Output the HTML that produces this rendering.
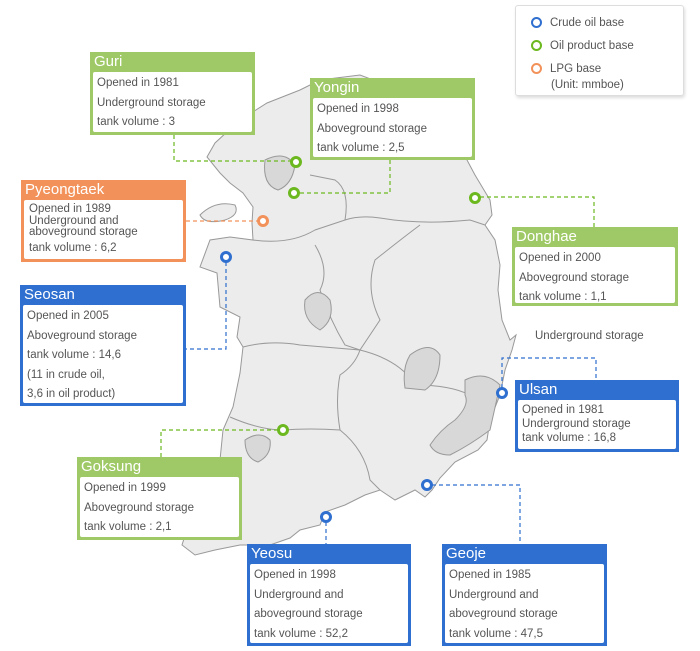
<!DOCTYPE html>
<html><head><meta charset="utf-8"><style>
body{margin:0;width:700px;height:651px;background:#fff;position:relative;font-family:"Liberation Sans",sans-serif;overflow:hidden}
.b{position:absolute;box-sizing:border-box;padding:20px 3px 3px 3px}
.b .t{position:absolute;left:4px;top:1px;color:#fff;font-size:15px;line-height:18px}
.b .i{background:#fff;border-radius:2px;height:100%;box-sizing:border-box;padding:2px 4px;color:#555;font-size:11.5px;line-height:19.5px;white-space:nowrap}
.g{background:#9fc966}.o{background:#f2925a}.bl{background:#2f6fcf}
svg{position:absolute;left:0;top:0}
.lg{position:absolute;left:515px;top:5px;width:167px;height:89px;border:1px solid #ddd;border-radius:3px;box-shadow:1px 2px 3px #ddd;font-size:11.5px;color:#555}
</style></head><body>
<svg width="700" height="651">
<path d="M207,157 L215,143 L240,120 L267,103 L300,90 L320,80 L360,75 L400,90 L440,120 L467,160 L475,175 L490,200 L492,215 L485,225 L495,240 L500,265 L498,290 L502,320 L510,340 L516,335 L512,350 L505,370 L500,395 L490,420 L487,440 L478,450 L455,462 L440,478 L432,490 L425,497 L415,490 L395,500 L380,490 L365,495 L345,505 L325,512 L320,525 L300,530 L290,538 L270,545 L240,545 L215,550 L195,555 L182,545 L190,520 L215,495 L220,460 L223,430 L233,407 L240,373 L243,347 L237,337 L240,317 L220,307 L217,273 L200,267 L210,240 L230,237 L253,240 L252,223 L253,207 L243,193 L230,183 L220,173 Z" fill="#ececec" stroke="#999" stroke-width="1"/>
<path d="M200,215 Q215,200 235,205 Q240,215 225,220 Q205,225 200,215Z" fill="#ececec" stroke="#999"/>
<g fill="none" stroke="#999" stroke-width="1">
<path d="M253,240 Q290,245 315,230 L345,220 Q360,215 380,218 Q420,225 470,220 L485,225"/>
<path d="M345,220 Q350,190 335,180 L310,175"/>
<path d="M315,245 Q330,270 320,290 Q330,320 345,345 L360,350"/>
<path d="M420,225 Q400,240 375,260 Q365,290 380,320 L360,350 Q355,365 340,375 Q335,400 340,430"/>
<path d="M243,347 Q270,340 300,345 L360,350"/>
<path d="M230,417 Q260,430 283,430 Q310,428 340,430 Q365,450 370,480 L380,490"/>
<path d="M360,350 Q400,360 415,385 Q450,385 470,395 L487,400"/>
</g>
<g fill="#d8d8d8" stroke="#999">
<path d="M265,160 Q285,150 295,165 Q292,185 278,190 Q262,185 265,160Z"/>
<path d="M305,300 Q318,285 330,300 Q335,320 320,330 Q302,320 305,300Z"/>
<path d="M410,355 Q430,340 440,355 Q440,380 425,390 L405,388 Q402,368 410,355Z"/>
<path d="M245,440 Q260,430 270,440 Q272,455 258,462 Q245,458 245,440Z"/>
<path d="M465,380 Q485,370 500,385 L490,430 Q470,445 450,455 Q435,455 430,445 Q440,430 455,420 Q470,405 465,395Z"/>
</g>
<g fill="none" stroke-width="1.2" stroke-dasharray="4,3">
<path d="M174,135 V161 H291" stroke="#6cb81f"/>
<path d="M390,160 V193 H299" stroke="#6cb81f"/>
<path d="M480,197 H594 V227" stroke="#6cb81f"/>
<path d="M278,430 H161 V457" stroke="#6cb81f"/>
<path d="M186,221 H258" stroke="#f2925a"/>
<path d="M226,262 V349 H186" stroke="#2f6fcf"/>
<path d="M502,388 V358 H596 V380" stroke="#2f6fcf"/>
<path d="M326,522 V544" stroke="#2f6fcf"/>
<path d="M432,485 H520 V544" stroke="#2f6fcf"/>
</g>
<g fill="#fff" stroke-width="3">
<circle cx="296" cy="162" r="4.5" stroke="#6cb81f"/>
<circle cx="294" cy="193" r="4.5" stroke="#6cb81f"/>
<circle cx="475" cy="198" r="4.5" stroke="#6cb81f"/>
<circle cx="283" cy="430" r="4.5" stroke="#6cb81f"/>
<circle cx="263" cy="221" r="4.5" stroke="#f2925a"/>
<circle cx="226" cy="257" r="4.5" stroke="#2f6fcf"/>
<circle cx="502" cy="393" r="4.5" stroke="#2f6fcf"/>
<circle cx="427" cy="485" r="4.5" stroke="#2f6fcf"/>
<circle cx="326" cy="517" r="4.5" stroke="#2f6fcf"/>
</g>
</svg>
<div class="lg">
<div style="position:absolute;left:15px;top:6px;line-height:23px">
<div><span style="display:inline-block;width:7px;height:7px;border:2.5px solid #2f6fcf;border-radius:50%;vertical-align:-2px;margin-right:8px"></span>Crude oil base</div>
<div><span style="display:inline-block;width:7px;height:7px;border:2.5px solid #6cb81f;border-radius:50%;vertical-align:-2px;margin-right:8px"></span>Oil product base</div>
<div style="line-height:16px;margin-top:3px"><span style="display:inline-block;width:7px;height:7px;border:2.5px solid #f2925a;border-radius:50%;vertical-align:-2px;margin-right:8px"></span>LPG base<br><span style="margin-left:20px">(Unit: mmboe)</span></div>
</div></div>
<div style="position:absolute;left:535px;top:330px;font-size:11.5px;color:#555">Underground storage</div>

<div class="b g" style="left:90px;top:52px;width:165px;height:83px"><div class="t">Guri</div><div class="i">Opened in 1981<br>Underground storage<br>tank volume : 3</div></div>
<div class="b g" style="left:310px;top:78px;width:165px;height:82px"><div class="t">Yongin</div><div class="i">Opened in 1998<br>Aboveground storage<br>tank volume : 2,5</div></div>
<div class="b o" style="left:21px;top:180px;width:165px;height:82px"><div class="t">Pyeongtaek</div><div class="i" style="position:relative;padding:0">
<div style="position:absolute;left:5px;top:1px;line-height:17px">Opened in 1989</div>
<div style="position:absolute;left:5px;top:16px;line-height:11px">Underground and<br>aboveground storage</div>
<div style="position:absolute;left:5px;top:40px;line-height:17px">tank volume : 6,2</div></div></div>
<div class="b bl" style="left:20px;top:285px;width:166px;height:121px"><div class="t">Seosan</div><div class="i">Opened in 2005<br>Aboveground storage<br>tank volume : 14,6<br>(11 in crude oil,<br>3,6 in oil product)</div></div>
<div class="b g" style="left:512px;top:227px;width:166px;height:79px"><div class="t">Donghae</div><div class="i">Opened in 2000<br>Aboveground storage<br>tank volume : 1,1</div></div>
<div class="b bl" style="left:515px;top:380px;width:164px;height:72px"><div class="t">Ulsan</div><div class="i" style="line-height:14px;padding-top:3px">Opened in 1981<br>Underground storage<br>tank volume : 16,8</div></div>
<div class="b g" style="left:77px;top:457px;width:165px;height:83px"><div class="t">Goksung</div><div class="i">Opened in 1999<br>Aboveground storage<br>tank volume : 2,1</div></div>
<div class="b bl" style="left:247px;top:544px;width:164px;height:102px"><div class="t">Yeosu</div><div class="i">Opened in 1998<br>Underground and<br>aboveground storage<br>tank volume : 52,2</div></div>
<div class="b bl" style="left:442px;top:544px;width:165px;height:102px"><div class="t">Geoje</div><div class="i">Opened in 1985<br>Underground and<br>aboveground storage<br>tank volume : 47,5</div></div>
</body></html>
